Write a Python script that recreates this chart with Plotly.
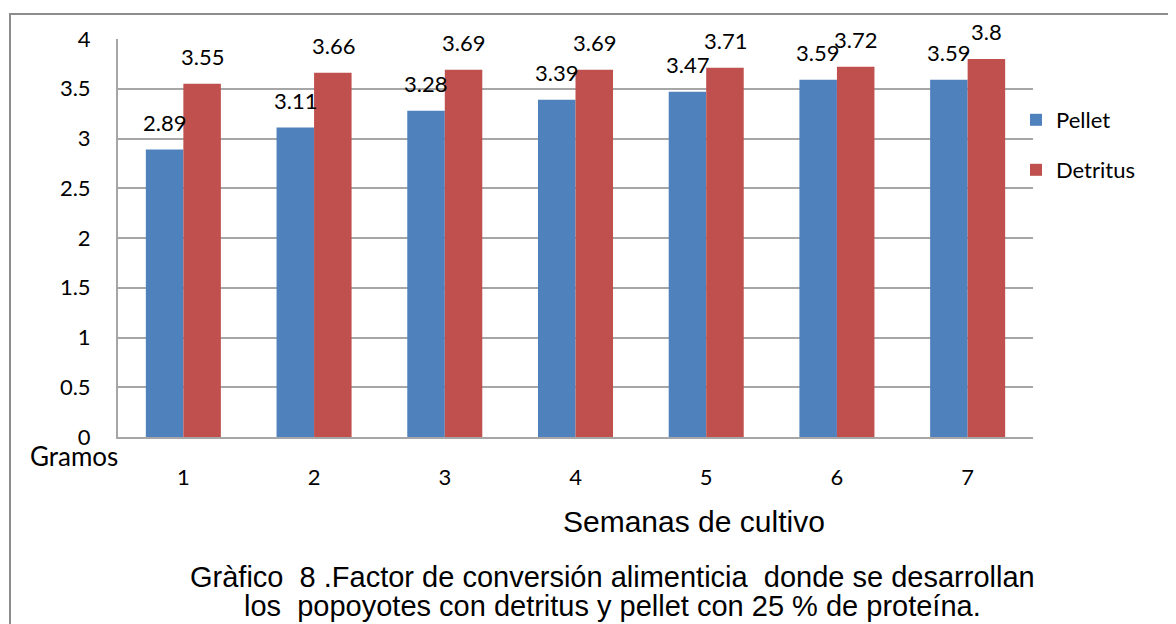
import plotly.graph_objects as go

semanas = ["1", "2", "3", "4", "5", "6", "7"]
pellet = [2.89, 3.11, 3.28, 3.39, 3.47, 3.59, 3.59]
detritus = [3.55, 3.66, 3.69, 3.69, 3.71, 3.72, 3.80]
y_ticks = [0, 0.5, 1, 1.5, 2, 2.5, 3, 3.5, 4]
y_ticklabels = ["0", "0.5", "1", "1.5", "2", "2.5", "3", "3.5", "4"]

BLUE = "#4F81BD"
RED = "#C0504D"
GRID = "#A6A6A6"
FONT = "Lato"
CAPFONT = "Liberation Sans"

W, H = 1176, 624
OFF = 8  # page body margin
# plot area in page pixels
L, R, T, B = 118, 1033, 39, 437


def px(xp):
    return (xp - L) / (R - L)


def py(yp):
    return (B - yp) / (B - T)


fig = go.Figure()
fig.add_trace(go.Bar(x=semanas, y=pellet, name="Pellet", marker_color=BLUE,
                     marker_line_width=0, legend="legend"))
fig.add_trace(go.Bar(x=semanas, y=detritus, name="Detritus", marker_color=RED,
                     marker_line_width=0, legend="legend2"))

annots = []
for i, (p, d) in enumerate(zip(pellet, detritus)):
    annots.append(dict(x=i, y=p, xref="x", yref="y", text=f"{p:g}", showarrow=False,
                       xshift=-19, yshift=27, yanchor="middle", xanchor="center",
                       font=dict(family=FONT, size=22, color="black")))
    annots.append(dict(x=i, y=d, xref="x", yref="y", text=f"{d:g}", showarrow=False,
                       xshift=19, yshift=27, yanchor="middle", xanchor="center",
                       font=dict(family=FONT, size=22, color="black")))

annots.append(dict(x=px(74), y=py(456), xref="paper", yref="paper", text="Gramos",
                   showarrow=False, xanchor="center", yanchor="middle",
                   font=dict(family=FONT, size=26, color="black")))
annots.append(dict(x=px(694), y=py(521), xref="paper", yref="paper",
                   text="Semanas de cultivo", showarrow=False,
                   xanchor="center", yanchor="middle",
                   font=dict(family=CAPFONT, size=30, color="black")))
annots.append(dict(x=px(612), y=py(577), xref="paper", yref="paper",
                   text="Gràfico  8 .Factor de conversión alimenticia  donde se desarrollan",
                   showarrow=False, xanchor="center", yanchor="middle",
                   font=dict(family=CAPFONT, size=29, color="black")))
annots.append(dict(x=px(612), y=py(606), xref="paper", yref="paper",
                   text="los  popoyotes con detritus y pellet con 25 % de proteína.",
                   showarrow=False, xanchor="center", yanchor="middle",
                   font=dict(family=CAPFONT, size=29, color="black")))

fig.update_layout(annotations=annots)

fig.add_shape(type="rect", xref="paper", yref="paper",
              x0=px(10), y0=py(14), x1=px(1400), y1=py(800),
              line=dict(color="#8C8C8C", width=2), fillcolor="rgba(0,0,0,0)")

fig.update_layout(
    width=W, height=H,
    margin=dict(l=L - OFF, r=W - R + OFF, t=T - OFF, b=H - B + OFF, pad=0),
    paper_bgcolor="white", plot_bgcolor="white",
    barmode="group", bargap=0.426, bargroupgap=0,
    showlegend=True,
    font=dict(family=FONT, size=22, color="black"),
    xaxis=dict(type="category", range=[-0.5, 6.5], showgrid=False, showline=True,
               linecolor=GRID, linewidth=2, ticks="",
               tickfont=dict(family=FONT, size=22), ticklabelstandoff=20),
    yaxis=dict(range=[0, 4], tickvals=y_ticks, ticktext=y_ticklabels,
               showgrid=True, gridcolor=GRID, gridwidth=2,
               showline=True, linecolor=GRID, linewidth=2, zeroline=False,
               ticks="", tickfont=dict(family=FONT, size=22), ticklabelstandoff=21),
    legend=dict(x=px(1016), xanchor="left", y=py(120), yanchor="middle",
                font=dict(family=FONT, size=22), bgcolor="rgba(0,0,0,0)"),
    legend2=dict(x=px(1016), xanchor="left", y=py(170), yanchor="middle",
                 font=dict(family=FONT, size=22), bgcolor="rgba(0,0,0,0)"),
)

fig.write_html("out.html")
